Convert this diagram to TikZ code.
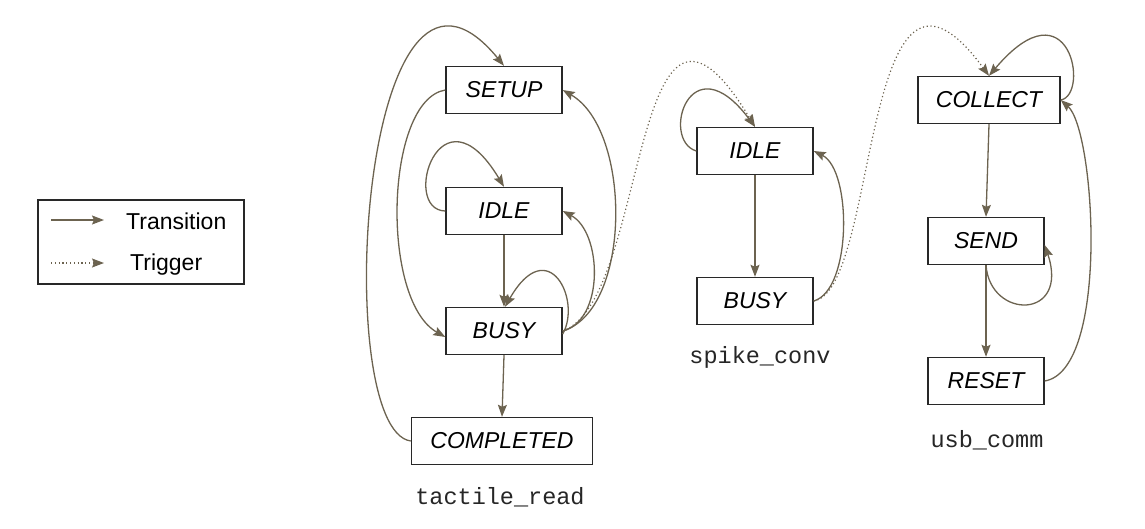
\documentclass[tikz,border=0pt]{standalone}
\usepackage{fontspec}
\setmainfont{Liberation Sans}
\newfontfamily\monofnt{Liberation Mono}
\usetikzlibrary{arrows.meta}
\definecolor{edgec}{RGB}{108,99,80}
\definecolor{boxc}{RGB}{40,40,40}
\tikzset{
  state/.style={draw=boxc, line width=1.4pt, fill=white, minimum width=116pt, minimum height=47pt, inner sep=0pt,
    font=\fontsize{23}{27}\selectfont\itshape},
  trans/.style={draw=edgec, line width=1.3pt, -{Stealth[length=12pt,width=9pt,inset=2pt]}},
  trig/.style={draw=edgec, line width=1.2pt, dash pattern=on 1.2pt off 2.6pt, -{Stealth[length=12pt,width=9pt,inset=2pt]}},
  grp/.style={font=\monofnt\fontsize{23.5}{27}\selectfont, text=black!85},
  legtxt/.style={font=\fontsize{23}{27}\selectfont, anchor=west, inner sep=0pt}
}
\begin{document}
\begin{tikzpicture}[x=1pt,y=-1pt]
\useasboundingbox (0,0) rectangle (1145,528);
% legend
\node[draw=boxc, line width=1.4pt, minimum width=206pt, minimum height=84pt, inner sep=0pt] (legend) at (141,242) {};
\coordinate (l1a) at (51,220); \coordinate (l1b) at (104,220);
\coordinate (l2a) at (51,263); \coordinate (l2b) at (104,263);
\draw[trans] (l1a) -- (l1b);
\draw[trig] (l2a) -- (l2b);
\node[legtxt] (ltrans) at (126,221) {Transition};
\node[legtxt] (ltrig) at (130,265) {Trigger};
% tactile_read
\node[state] (setup) at (504,90) {SETUP};
\node[state] (idlea) at (504,211) {IDLE};
\node[state] (busya) at (504,331) {BUSY};
\node[state, minimum width=181pt] (compl) at (502,441) {COMPLETED};
\node[grp] (gtact) at (500,497) {tactile\_read};
% spike_conv
\node[state] (idleb) at (755,151) {IDLE};
\node[state] (busyb) at (755,301) {BUSY};
\node[grp] (gspike) at (760,357) {spike\_conv};
% usb_comm
\node[state, minimum width=142pt] (collect) at (989,100) {COLLECT};
\node[state] (send) at (986,241) {SEND};
\node[state] (reset) at (986,381) {RESET};
\node[grp] (gusb) at (987,440) {usb\_comm};
% tactile_read edges
\draw[trans] (compl.west) .. controls (330,430) and (360,-110) .. (setup.north);
\draw[trans] (setup.west) .. controls (385,100) and (380,300) .. ([yshift=-6pt]busya.west);
\draw[trans] (idlea.west) .. controls (400,210) and (440,80) .. (idlea.north);
\draw[trans] (idlea.south) -- (busya.north);
\draw[trans] ([yshift=-3pt]busya.east) .. controls (582,300) and (548,232) .. ([xshift=1pt]busya.north);
\draw[trans] (busya.east) .. controls (605,320) and (602,232) .. (idlea.east);
\draw[trans] (busya.east) .. controls (632,310) and (632,130) .. (setup.east);
\draw[trans] (busya.south) -- (compl.north);
\draw[trig] (busya.east) .. controls (650,300) and (630,-80) .. (idleb.north);
% spike_conv edges
\draw[trans] (idleb.west) .. controls (660,140) and (690,40) .. (idleb.north);
\draw[trans] (idleb.south) -- (busyb.north);
\draw[trans] (busyb.east) .. controls (852,290) and (852,170) .. (idleb.east);
\draw[trig] (busyb.east) .. controls (880,290) and (860,-100) .. (collect.north);
% usb_comm edges
\draw[trans] (collect.east) .. controls (1090,95) and (1070,-20) .. (collect.north);
\draw[trans] (collect.south) -- (send.north);
\draw[trans] (send.south) .. controls (990,320) and (1070,320) .. ([yshift=-4pt]send.east);
\draw[trans] (send.south) -- (reset.north);
\draw[trans] (reset.east) .. controls (1110,370) and (1095,130) .. (collect.east);
\end{tikzpicture}
\end{document}
